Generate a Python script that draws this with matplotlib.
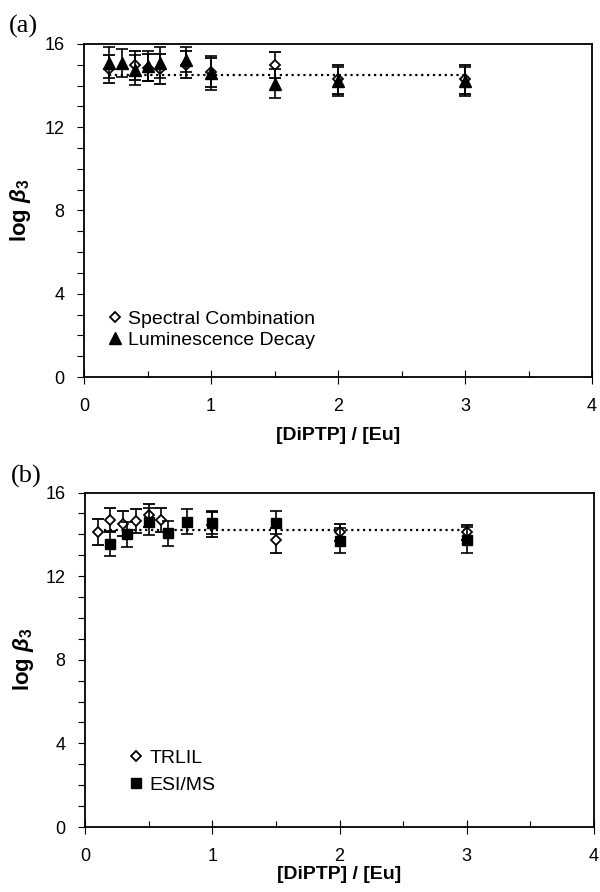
import numpy as np
import matplotlib
matplotlib.use("Agg")
import matplotlib.pyplot as plt
from matplotlib.lines import Line2D
from matplotlib.ticker import MultipleLocator

plt.rcParams['font.family'] = ['Liberation Sans', 'DejaVu Sans']
plt.rcParams['mathtext.fontset'] = 'custom'
plt.rcParams['mathtext.it'] = 'Liberation Sans:italic:bold'
plt.rcParams['mathtext.rm'] = 'Liberation Sans:bold'
plt.rcParams['mathtext.bf'] = 'Liberation Sans:bold'

# ---------------- Data ----------------
# Panel (a)
x_spec = [0.2, 0.4, 0.5, 0.6, 0.8, 1.0, 1.5, 2.0, 3.0]
y_spec = [14.8, 14.97, 14.85, 14.8, 15.0, 14.65, 15.0, 14.3, 14.3]
e_spec = [0.65, 0.7, 0.65, 0.7, 0.65, 0.7, 0.63, 0.7, 0.7]

x_lum = [0.2, 0.3, 0.4, 0.5, 0.6, 0.8, 1.0, 1.5, 2.0, 3.0]
y_lum = [15.1, 15.1, 14.75, 14.95, 15.1, 15.25, 14.6, 14.1, 14.2, 14.2]
e_lum = [0.75, 0.67, 0.7, 0.72, 0.75, 0.6, 0.8, 0.7, 0.7, 0.7]

fit_a = 14.5
fit_a_range = [0.2, 3.0]

# Panel (b)
x_trl = [0.1, 0.2, 0.3, 0.4, 0.5, 0.6, 1.0, 1.5, 2.0, 3.0]
y_trl = [14.1, 14.7, 14.5, 14.65, 14.9, 14.7, 14.45, 13.72, 14.1, 14.1]
e_trl = [0.62, 0.58, 0.6, 0.57, 0.55, 0.57, 0.6, 0.6, 0.4, 0.35]

x_esi = [0.2, 0.33, 0.5, 0.65, 0.8, 1.0, 1.5, 2.0, 3.0]
y_esi = [13.55, 14.0, 14.6, 14.05, 14.6, 14.55, 14.55, 13.7, 13.75]
e_esi = [0.6, 0.6, 0.65, 0.6, 0.6, 0.55, 0.55, 0.6, 0.62]

fit_b = 14.2
fit_b_range = [0.1, 3.0]

x_ticks = [0, 1, 2, 3, 4]
y_ticks = [0, 4, 8, 12, 16]
xlabel = '[DiPTP] / [Eu]'
ylabel = r'log $\beta_{3}$'
labels_a = ['Spectral Combination', 'Luminescence Decay']
labels_b = ['TRLIL', 'ESI/MS']

# ---------------- Figure ----------------
W, H = 600, 892
fig = plt.figure(figsize=(W / 100, H / 100), dpi=100)
ax_a = fig.add_axes([84 / W, 1 - 377 / H, 508 / W, 333 / H])
ax_b = fig.add_axes([85 / W, 1 - 827 / H, 509 / W, 334.5 / H])

eb_kw = dict(linestyle='none', ecolor='black', elinewidth=1.2, capsize=4,
             capthick=1.2)


def style_axes(ax):
    ax.set_xlim(0, 4)
    ax.set_ylim(0, 16)
    ax.set_xticks(x_ticks)
    ax.set_yticks(y_ticks)
    ax.xaxis.set_minor_locator(MultipleLocator(0.5))
    ax.yaxis.set_minor_locator(MultipleLocator(1))
    for s in ax.spines.values():
        s.set_linewidth(1.3)
        s.set_color('black')
    ax.tick_params(axis='x', which='major', direction='inout', length=10,
                   width=0.8, pad=10, labelsize=13, colors='black')
    ax.tick_params(axis='x', which='minor', direction='in', length=4,
                   width=0.8)
    ax.tick_params(axis='y', which='major', direction='out', length=5,
                   width=0.8, pad=9, labelsize=13)
    ax.tick_params(axis='y', which='minor', direction='out', length=5,
                   width=0.8)
    ax.set_xlabel(xlabel, fontsize=14, fontweight='bold', va='top')
    ax.set_ylabel(ylabel, fontsize=16, fontweight='bold')


# Panel (a)
ax_a.hlines(fit_a, fit_a_range[0], fit_a_range[1], colors='black',
            linestyles=':', linewidth=1.6, zorder=1)
ax_a.errorbar(x_spec, y_spec, yerr=e_spec, marker='D', markersize=5.5,
              markerfacecolor='white', markeredgecolor='black',
              markeredgewidth=1.3, zorder=2, **eb_kw)
ax_a.errorbar(x_lum, y_lum, yerr=e_lum, marker='^', markersize=8,
              markerfacecolor='black', markeredgecolor='black', zorder=3,
              **eb_kw)
style_axes(ax_a)
ax_a.xaxis.set_label_coords(0.5, -0.150)
ax_a.yaxis.set_label_coords(-0.1, 0.5)

h_a = [Line2D([], [], linestyle='none', marker='D', markersize=5.5,
              markerfacecolor='white', markeredgecolor='black',
              markeredgewidth=1.3),
       Line2D([], [], linestyle='none', marker='^', markersize=8,
              markerfacecolor='black', markeredgecolor='black')]
ax_a.legend(h_a, labels_a, loc='lower left', bbox_to_anchor=(0.046, 0.085),
            frameon=False, fontsize=14, handlelength=0.8,
            handletextpad=0.25, labelspacing=0.15, borderpad=0,
            borderaxespad=0)

# Panel (b)
ax_b.hlines(fit_b, fit_b_range[0], fit_b_range[1], colors='black',
            linestyles=':', linewidth=1.6, zorder=1)
ax_b.errorbar(x_trl, y_trl, yerr=e_trl, marker='D', markersize=5.5,
              markerfacecolor='white', markeredgecolor='black',
              markeredgewidth=1.3, zorder=2, **eb_kw)
ax_b.errorbar(x_esi, y_esi, yerr=e_esi, marker='s', markersize=6.5,
              markerfacecolor='black', markeredgecolor='black', zorder=3,
              **eb_kw)
style_axes(ax_b)
ax_b.xaxis.set_label_coords(0.5, -0.117)
ax_b.yaxis.set_label_coords(-0.097, 0.5)

h_b = [Line2D([], [], linestyle='none', marker='D', markersize=5.5,
              markerfacecolor='white', markeredgecolor='black',
              markeredgewidth=1.3),
       Line2D([], [], linestyle='none', marker='s', markersize=6.5,
              markerfacecolor='black', markeredgecolor='black')]
ax_b.legend(h_b, labels_b, loc='lower left', bbox_to_anchor=(0.084, 0.10),
            frameon=False, fontsize=14, handlelength=0.8,
            handletextpad=0.3, labelspacing=0.45, borderpad=0,
            borderaxespad=0)

# Panel letters
fig.text(9 / W, 1 - 33 / H, '(a)', fontsize=19, family='Liberation Serif',
         va='baseline', ha='left')
fig.text(11 / W, 1 - 483 / H, '(b)', fontsize=19, family='Liberation Serif',
         va='baseline', ha='left')

fig.savefig('out.png', dpi=100)
